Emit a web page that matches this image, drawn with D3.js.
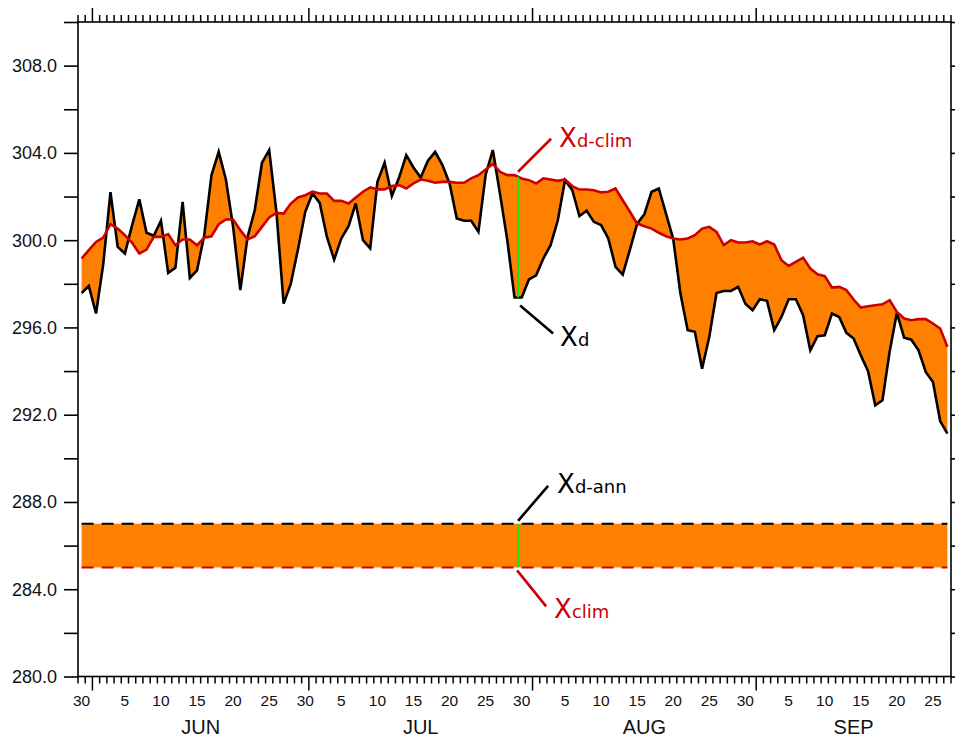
<!DOCTYPE html>
<html>
<head>
<meta charset="utf-8">
<script src="https://cdn.jsdelivr.net/npm/d3@7/dist/d3.min.js"></script>
<style>
  html, body { margin: 0; padding: 0; background: #fff; }
  svg { display: block; }
</style>
</head>
<body>
<svg id="chart" width="955" height="742"></svg>
<script>
// Time axis: 30 May – 28 Sep, one value per day (plotted at mid-day)
const startDate = Date.UTC(2001, 4, 30);
const endDate   = Date.UTC(2001, 8, 28);

// X_d : daily temperature (K)
const dailyValues = [
  297.58, 297.90, 296.64, 298.90, 302.20, 299.69, 299.39, 300.69, 301.87, 300.34,
  300.20, 300.89, 298.50, 298.73, 301.76, 298.27, 298.62, 300.23, 302.98, 304.05,
  302.78, 300.61, 297.71, 300.15, 301.38, 303.55, 304.13, 301.30, 297.09, 298.01,
  299.60, 301.30, 302.14, 301.71, 300.15, 299.11, 300.08, 300.64, 301.68, 300.00,
  299.62, 302.67, 303.55, 302.02, 302.87, 303.90, 303.33, 302.87, 303.64, 304.05,
  303.45, 302.60, 300.99, 300.89, 300.89, 300.38, 303.00, 304.13, 302.10, 300.00,
  297.37, 297.37, 298.20, 298.39, 299.16, 299.77, 300.90, 302.75, 302.30, 301.10,
  301.35, 300.84, 300.69, 300.08, 298.78, 298.42, 299.57, 300.76, 301.19, 302.22,
  302.37, 301.22, 300.05, 297.55, 295.87, 295.80, 294.11, 295.57, 297.58, 297.67,
  297.67, 297.86, 297.09, 296.79, 297.29, 297.22, 295.87, 296.48, 297.29, 297.29,
  296.56, 294.95, 295.60, 295.64, 296.64, 296.48, 295.75, 295.49, 294.72, 294.00,
  292.43, 292.66, 294.90, 296.67, 295.53, 295.44, 294.95, 293.96, 293.50, 291.71,
  291.13
];

// X_d-clim : daily climatology (K)
const dailyClim = [
  299.16, 299.54, 299.92, 300.12, 300.73, 300.53, 300.23, 299.88, 299.39, 299.57,
  300.15, 300.15, 300.28, 299.77, 300.03, 300.03, 299.77, 300.11, 300.18, 300.73,
  300.95, 300.95, 300.46, 300.03, 300.18, 300.61, 301.04, 301.25, 301.22, 301.68,
  301.96, 302.06, 302.22, 302.14, 302.14, 301.80, 301.80, 301.68, 301.96, 302.22,
  302.42, 302.33, 302.33, 302.48, 302.52, 302.37, 302.60, 302.78, 302.72, 302.63,
  302.67, 302.67, 302.63, 302.63, 302.83, 302.98, 303.24, 303.49, 303.13, 302.98,
  302.98, 302.83, 302.75, 302.60, 302.83, 302.78, 302.72, 302.78, 302.48, 302.32,
  302.32, 302.29, 302.19, 302.22, 302.37, 301.83, 301.30, 300.76, 300.64, 300.53,
  300.34, 300.18, 300.08, 300.03, 300.08, 300.23, 300.53, 300.61, 300.38, 299.77,
  300.00, 299.89, 299.89, 299.95, 299.80, 299.95, 299.80, 299.08, 298.82, 299.01,
  299.20, 298.70, 298.44, 298.35, 297.83, 297.86, 297.71, 297.28, 296.91, 296.97,
  297.02, 297.06, 297.25, 296.71, 296.41, 296.33, 296.38, 296.38, 296.18, 295.95,
  295.11
];

// Annual mean (X_d-ann) and climatological mean (X_clim), K
const annualMean = 287.0;
const climMean = 285.0;

// Left-axis labelled values
const yTickValues = [280, 284, 288, 292, 296, 300, 304, 308];
const yMinorValues = [280, 282, 284, 286, 288, 290, 292, 294, 296, 298, 300, 302, 304, 306, 308, 310];
const monthNames = ["JUN", "JUL", "AUG", "SEP"];

// Highlighted day
const markerDate = Date.UTC(2001, 6, 30);

const DAY = 86400000;
const orange = "#FF8000";
const red = "#CC0000";
const green = "#18E418";

const svg = d3.select("#chart");
const x = d3.scaleUtc().domain([startDate, endDate]).range([78, 951]);
const y = d3.scaleLinear().domain([280, 310]).range([676.5, 22]);

const pts = dailyValues.map((v, i) => ({
  t: startDate + (i + 0.5) * DAY,
  d: v,
  c: dailyClim[i]
}));

// Shaded difference between daily value and climatology
svg.append("path")
  .datum(pts)
  .attr("fill", orange)
  .attr("d", d3.area().x(p => x(p.t)).y0(p => y(p.c)).y1(p => y(p.d)));

// Band between annual and climatological means
const t0 = pts[0].t, t1 = pts[pts.length - 1].t;
svg.append("rect")
  .attr("x", x(t0)).attr("width", x(t1) - x(t0))
  .attr("y", y(annualMean)).attr("height", y(climMean) - y(annualMean))
  .attr("fill", orange);

const lineD = d3.line().x(p => x(p.t)).y(p => y(p.d));
const lineC = d3.line().x(p => x(p.t)).y(p => y(p.c));

svg.append("path").datum(pts).attr("fill", "none").attr("stroke", "#000")
  .attr("stroke-width", 2.6).attr("stroke-linejoin", "miter").attr("d", lineD);
svg.append("path").datum(pts).attr("fill", "none").attr("stroke", red)
  .attr("stroke-width", 2.6).attr("d", lineC);

// Dashed mean lines
[[annualMean, "#000"], [climMean, red]].forEach(([v, col]) => {
  svg.append("line")
    .attr("x1", x(t0)).attr("x2", x(t1))
    .attr("y1", y(v)).attr("y2", y(v))
    .attr("stroke", col).attr("stroke-width", 2)
    .attr("stroke-dasharray", "12,8");
});

// Marker: value at the highlighted time (linear between neighbouring days)
const fi = (markerDate - startDate) / DAY - 0.5;
const i0 = Math.floor(fi), fr = fi - i0;
const mD = dailyValues[i0] + fr * (dailyValues[i0 + 1] - dailyValues[i0]);
const mC = dailyClim[i0] + fr * (dailyClim[i0 + 1] - dailyClim[i0]);
const mx = x(markerDate);

svg.append("line").attr("x1", mx).attr("x2", mx)
  .attr("y1", y(mC)).attr("y2", y(mD))
  .attr("stroke", green).attr("stroke-width", 2);
svg.append("line").attr("x1", mx).attr("x2", mx)
  .attr("y1", y(annualMean)).attr("y2", y(climMean))
  .attr("stroke", green).attr("stroke-width", 2);

// Leader lines and labels
const notes = [
  { v: mC, col: red, sub: "d-clim", l: [0, -5, 33, -38], t: [41, -30] },
  { v: mD, col: "#000", sub: "d", l: [2, 8, 35, 36], t: [42, 48] },
  { v: annualMean, col: "#000", sub: "d-ann", l: [0, -3, 30, -38], t: [39, -31] },
  { v: climMean, col: red, sub: "clim", l: [-1, 3, 28, 39], t: [36, 51] }
];
notes.forEach(n => {
  const ay = y(n.v);
  svg.append("line")
    .attr("x1", mx + n.l[0]).attr("y1", ay + n.l[1])
    .attr("x2", mx + n.l[2]).attr("y2", ay + n.l[3])
    .attr("stroke", n.col).attr("stroke-width", 2.6);
  const tx = svg.append("text")
    .attr("x", mx + n.t[0]).attr("y", ay + n.t[1])
    .attr("fill", n.col)
    .attr("font-family", "'DejaVu Sans', sans-serif");
  tx.append("tspan").attr("font-size", 26).text("X");
  tx.append("tspan").attr("font-size", 18).text(n.sub);
});

// Frame
const axisCol = "#000";
const L = 78, R = 951, T = 22, B = 676.5;
svg.append("rect").attr("x", L).attr("y", T).attr("width", R - L).attr("height", B - T)
  .attr("fill", "none").attr("stroke", axisCol).attr("stroke-width", 1.6);

// Left & right ticks
const yAxisL = d3.axisLeft(y).tickValues(yMinorValues).tickSize(14).tickFormat("");
svg.append("g").attr("transform", `translate(${L},0)`).call(yAxisL)
  .call(g => g.select(".domain").remove())
  .call(g => g.selectAll("line").attr("stroke", axisCol).attr("stroke-width", 1.6));
const yAxisR = d3.axisRight(y).tickValues(yMinorValues).tickSize(14).tickFormat("");
svg.append("g").attr("transform", `translate(${R},0)`).call(yAxisR)
  .call(g => g.select(".domain").remove())
  .call(g => g.selectAll("line").attr("stroke", axisCol).attr("stroke-width", 1.6));

// Y labels
svg.append("g").selectAll("text").data(yTickValues).join("text")
  .attr("x", 57).attr("y", d => y(d)).attr("dy", "0.36em")
  .attr("text-anchor", "end")
  .attr("font-family", "'Liberation Sans', Arial, sans-serif")
  .attr("font-size", 18).attr("fill", "#111")
  .text(d => d.toFixed(1));

// Day and month ticks (top and bottom)
const days = d3.utcDay.range(new Date(startDate), new Date(endDate + 1));
const isMonthStart = d => d.getUTCDate() === 1;
const tickG = svg.append("g").attr("stroke", axisCol).attr("stroke-width", 1.5);
days.forEach(d => {
  const xx = x(d);
  const len = isMonthStart(d) ? 14 : 7;
  tickG.append("line").attr("x1", xx).attr("x2", xx).attr("y1", B).attr("y2", B + len);
  tickG.append("line").attr("x1", xx).attr("x2", xx).attr("y1", T).attr("y2", T - len);
});

// Day-of-month labels every 5 days, centred on the day
svg.append("g").selectAll("text")
  .data(days.filter(d => d.getUTCDate() % 5 === 0))
  .join("text")
  .attr("x", d => x(+d + DAY / 2)).attr("y", 706)
  .attr("text-anchor", "middle")
  .attr("font-family", "'Liberation Sans', Arial, sans-serif")
  .attr("font-size", 15.5).attr("fill", "#111")
  .text(d => d.getUTCDate());

// Month labels, centred on the visible part of each month
const monthStarts = days.filter(isMonthStart);
svg.append("g").selectAll("text")
  .data(monthStarts)
  .join("text")
  .attr("x", (d, i) => {
    const next = Math.min(Date.UTC(d.getUTCFullYear(), d.getUTCMonth() + 1, 1), endDate);
    return x((+d + next) / 2);
  })
  .attr("y", 734)
  .attr("text-anchor", "middle")
  .attr("font-family", "'Liberation Sans', Arial, sans-serif")
  .attr("font-size", 20).attr("fill", "#111")
  .text((d, i) => monthNames[i]);
</script>
</body>
</html>
